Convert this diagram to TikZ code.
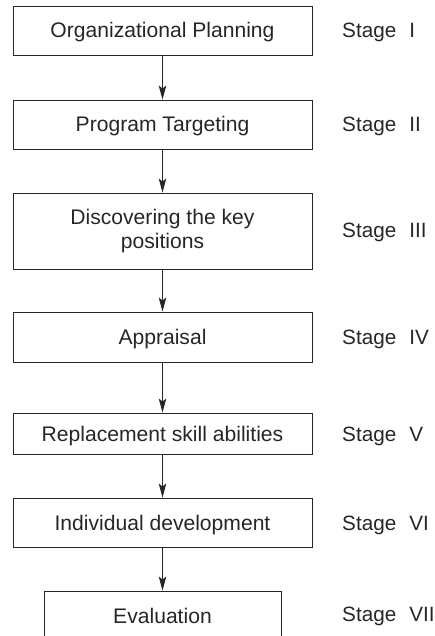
\documentclass[tikz,border=0pt]{standalone}
\usepackage{fontspec}
\setmainfont{Liberation Sans}
\usetikzlibrary{arrows.meta}
\definecolor{ink}{HTML}{262626}
\begin{document}
\begin{tikzpicture}[x=1pt,y=-1pt,
  stagebox/.style={draw=ink, line width=0.9pt, minimum width=299pt, inner sep=0pt,
    text=ink, align=center, font=\fontsize{21.1}{24}\selectfont},
  oneline/.style={text height=15pt, text depth=0pt},
  stagelabel/.style={anchor=west, inner sep=0pt, text=ink, oneline,
    font=\fontsize{20.7}{24}\selectfont},
  flow/.style={draw=ink, line width=0.9pt,
    -{Stealth[length=14pt,width=7.5pt,inset=3pt]}}]
  \useasboundingbox (0,0) rectangle (435,636);
  \clip (0,0) rectangle (435,636);

  % boxes of the planning sequence
  \node[stagebox, oneline, minimum height=49pt] (s1) at (162.5,30.5) {Organizational Planning};
  \node[stagebox, oneline, minimum height=49pt] (s2) at (162.5,124.5) {Program Targeting};
  \node[stagebox, minimum height=76pt] (s3) at (162.5,231) {Discovering the key\\positions};
  \node[stagebox, oneline, minimum height=50pt] (s4) at (162.5,337) {Appraisal};
  \node[stagebox, oneline, minimum height=41pt] (s5) at (162.5,433.5) {Replacement skill abilities};
  \node[stagebox, oneline, minimum height=49pt] (s6) at (162.5,522.5) {Individual development};
  \node[stagebox, oneline, minimum width=237pt, minimum height=50pt] (s7) at (162.5,616) {Evaluation};

  % stage labels
  \node[stagelabel] (l1) at (342,30.5) {Stage\hspace{13pt}I};
  \node[stagelabel] (l2) at (342,124.5) {Stage\hspace{13pt}II};
  \node[stagelabel] (l3) at (342,230) {Stage\hspace{13pt}III};
  \node[stagelabel] (l4) at (342,337) {Stage\hspace{13pt}IV};
  \node[stagelabel] (l5) at (342,433.5) {Stage\hspace{13pt}V};
  \node[stagelabel] (l6) at (342,522.5) {Stage\hspace{13pt}VI};
  \node[stagelabel] (l7) at (342,614) {Stage\hspace{13pt}VII};

  % connectors
  \draw[flow] (s1.south) -- (s2.north);
  \draw[flow] (s2.south) -- (s3.north);
  \draw[flow] (s3.south) -- (s4.north);
  \draw[flow] (s4.south) -- (s5.north);
  \draw[flow] (s5.south) -- (s6.north);
  \draw[flow] (s6.south) -- (s7.north);
\end{tikzpicture}
\end{document}
